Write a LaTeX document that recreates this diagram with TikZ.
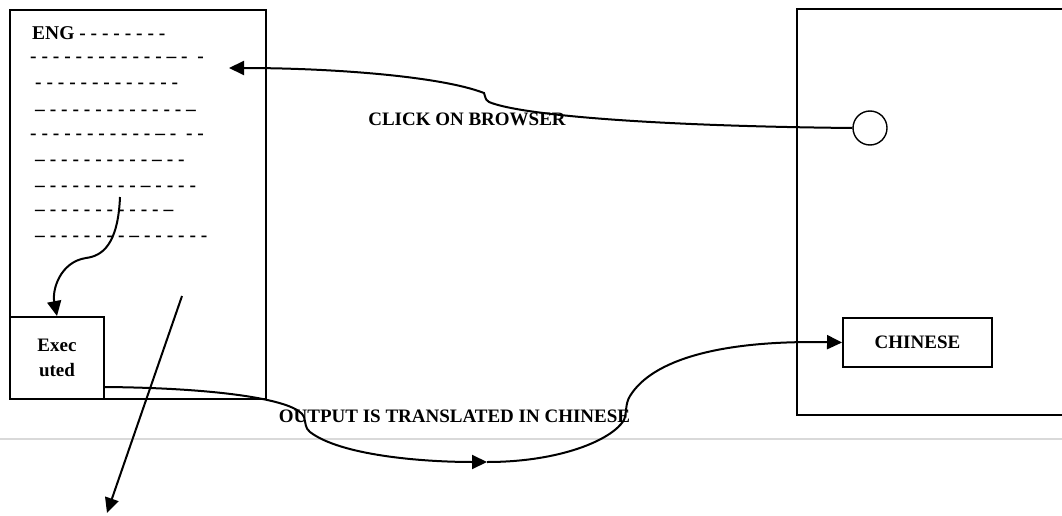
\documentclass[tikz,border=0pt]{standalone}
\usepackage{fontspec}
\setmainfont{Liberation Serif}
\usetikzlibrary{arrows.meta}
\tikzset{
  boxed/.style={draw, line width=1.9pt, inner sep=0pt},
  lbl/.style={font=\fontsize{19}{25}\selectfont\bfseries, inner sep=0pt},
  dashline/.style={font=\fontsize{19.5}{22}\selectfont\bfseries, inner sep=0pt, anchor=west},
  conn/.style={line width=2pt, -{Triangle[length=15pt,width=14pt]}},
  plain/.style={line width=2pt}
}
\begin{document}
\begin{tikzpicture}[x=1pt,y=-1pt]
\useasboundingbox (0,0) rectangle (1062,516);
% separator line
\draw[line width=2pt, color=black!15] (0,439) -- (1062,439);
% boxes
\node (left) [boxed, minimum width=256pt, minimum height=389pt] at (138,204.5) {};
\node (right) [boxed, minimum width=273pt, minimum height=406pt] at (933.5,212) {};
\node (exec) [boxed, minimum width=94pt, minimum height=82pt, lbl, align=center] at (57,358) {Exec\\uted};
\node (chinese) [boxed, minimum width=149pt, minimum height=49pt, lbl] at (917.5,342.5) {CHINESE};
\node (btn) [draw, circle, line width=1.4pt, minimum size=34pt, inner sep=0pt] at (870,128) {};
% text lines
\node (l1) [dashline] at (32,33) {ENG - - - - - - - -};
\node (l2) [dashline] at (30,60) {- - - - - - - - - - - - -- -\ \ -};
\node (l3) [dashline] at (35,86) {- - - - - - - - - - - - -};
\node (l4) [dashline] at (35,113) {-- - - - - - - - - - - - - --};
\node (l5) [dashline] at (30,137) {- - - - - - - - - - - -- -\ \ - -};
\node (l6) [dashline] at (35,163) {-- - - - - - - - - - -- - -};
\node (l7) [dashline] at (35,189) {-- - - - - - - - - -- - - - -};
\node (l8) [dashline] at (35,213) {-- - - - - - - - - - - --};
\node (l9) [dashline] at (35,239) {-- - - - - - - - -- - - - - - -};
% labels
\node (click) [lbl] at (467,119) {CLICK ON BROWSER};
\node (output) [lbl] at (454.5,416) {OUTPUT IS TRANSLATED IN CHINESE};
% coordinates
\coordinate (target) at (229,68);
\coordinate (src) at (120,197);
\coordinate (p1) at (182,296);
\coordinate (p2) at (107,513);
\coordinate (mid) at (487,462);
% connectors
\draw[conn] (btn.west) .. controls (650,126) and (520,115) .. (489,102)
  .. controls (484,99) and (486,96) .. (484,93)
  .. controls (440,76) and (330,68) .. (target);
\draw[conn] (src) .. controls (118,245) and (102,256) .. (86,258)
  .. controls (60,262) and (52,290) .. (exec.north);
\draw[conn] (p1) -- (p2);
\draw[conn] (exec.east |- 0,387) .. controls (220,388) and (298,400) .. (304,417)
  .. controls (306,424) and (305,428) .. (310,432)
  .. controls (340,455) and (420,462) .. (mid);
\draw[conn] (mid) .. controls (560,462) and (612,440) .. (624,420)
  .. controls (627,412) and (625,404) .. (630,396)
  .. controls (652,360) and (720,340) .. (chinese.west);
\end{tikzpicture}
\end{document}
